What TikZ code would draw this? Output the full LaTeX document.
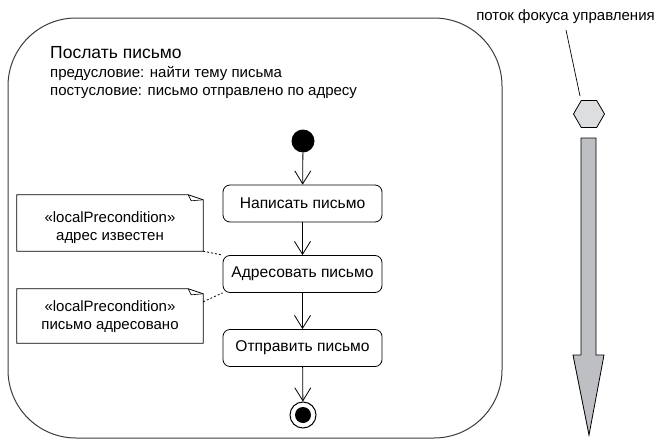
\documentclass[tikz,border=0pt]{standalone}
\usepackage{fontspec}
\setmainfont{Liberation Sans}
\usetikzlibrary{shapes.geometric,arrows.meta}
\definecolor{arrowgray}{RGB}{190,191,195}
\definecolor{hexgray}{RGB}{221,222,224}
\definecolor{framecol}{RGB}{60,60,60}
\begin{document}
\begin{tikzpicture}[x=1pt,y=-1pt,
  act/.style={draw, line width=0.8pt, rounded corners=7pt, minimum width=159pt, minimum height=37pt, inner sep=0pt, font=\fontsize{15.6}{18}\selectfont},
  notebox/.style={minimum width=186pt, inner sep=0pt},
  notetxt/.style={inner sep=0pt, anchor=base, font=\fontsize{15}{18}\selectfont},
  flow/.style={line width=0.8pt, -{Straight Barb[length=13pt,width=16pt,line width=0.8pt]}},
  txt/.style={inner sep=0pt, anchor=base west}]
\useasboundingbox (0,0) rectangle (662,442);
% frame
\draw[framecol, line width=1pt, rounded corners=68pt] (8,18) rectangle (502,438);
\node[txt, font=\fontsize{17.5}{19}\selectfont] (title) at (50,58.3) {Послать письмо};
\node[txt, font=\fontsize{15}{17}\selectfont] (pre) at (50,77) {предусловие: найти тему письма};
\node[txt, font=\fontsize{15}{17}\selectfont] (post) at (50,95.5) {постусловие: письмо отправлено по адресу};
% flow
\node[circle, fill=black, minimum size=23pt, inner sep=0pt] (start) at (303,141) {};
\node[act] (a1) at (302.5,203.5) {Написать письмо};
\node[act] (a2) at (302.5,274) {Адресовать письмо};
\node[act] (a3) at (302.5,348) {Отправить письмо};
\node[circle, draw, line width=1pt, minimum size=26pt, inner sep=0pt] (end) at (303,415) {};
\node[circle, fill=black, minimum size=16pt, inner sep=0pt] (endin) at (end) {};
\draw[flow] (start) -- (a1);
\draw[flow] (a1) -- (a2);
\draw[flow] (a2) -- (a3);
\draw[flow] (a3) -- (end);
% notes
\node[notebox, minimum height=56pt] (n1) at (110,223) {};
\node[notetxt] (n1a) at (110,222) {«localPrecondition»};
\node[notetxt] (n1b) at (110,240) {адрес известен};
\node[notebox, minimum height=54pt] (n2) at (110,316) {};
\node[notetxt] (n2a) at (110,311.5) {«localPrecondition»};
\node[notetxt] (n2b) at (110,329) {письмо адресовано};
\foreach \n in {n1,n2}{
  \draw[line width=0.8pt] (\n.north west) -- ([xshift=-15pt]\n.north east) -- ([yshift=-5pt]\n.north east) -- (\n.south east) -- (\n.south west) -- cycle;
  \draw[line width=0.6pt] ([xshift=-15pt]\n.north east) -- ([xshift=-12pt,yshift=-6pt]\n.north east) -- ([yshift=-5pt]\n.north east);
}
\draw[line width=0.8pt, dash pattern=on 2pt off 2pt] (n1.south east) -- (a2.north west);
\draw[line width=0.8pt, dash pattern=on 2pt off 2pt] ([yshift=-13pt]n2.north east) -- (a2.south west);
% control flow
\node[inner sep=0pt, anchor=base, font=\fontsize{15}{17}\selectfont] (lbl) at (565.5,20) {поток фокуса управления};
\coordinate (lp) at (566,30);
\coordinate (lq) at (580,96);
\draw[line width=0.7pt] (lp) -- (lq);
\node[regular polygon, regular polygon sides=6, minimum size=31pt, inner sep=0pt, draw, line width=0.8pt, fill=hexgray] (hex) at (589,114) {};
\draw[line width=0.8pt, fill=arrowgray] (581,138) -- (596,138) -- (596,355) -- (604,355) -- (589,435) -- (573,355) -- (581,355) -- cycle;
\end{tikzpicture}
\end{document}
